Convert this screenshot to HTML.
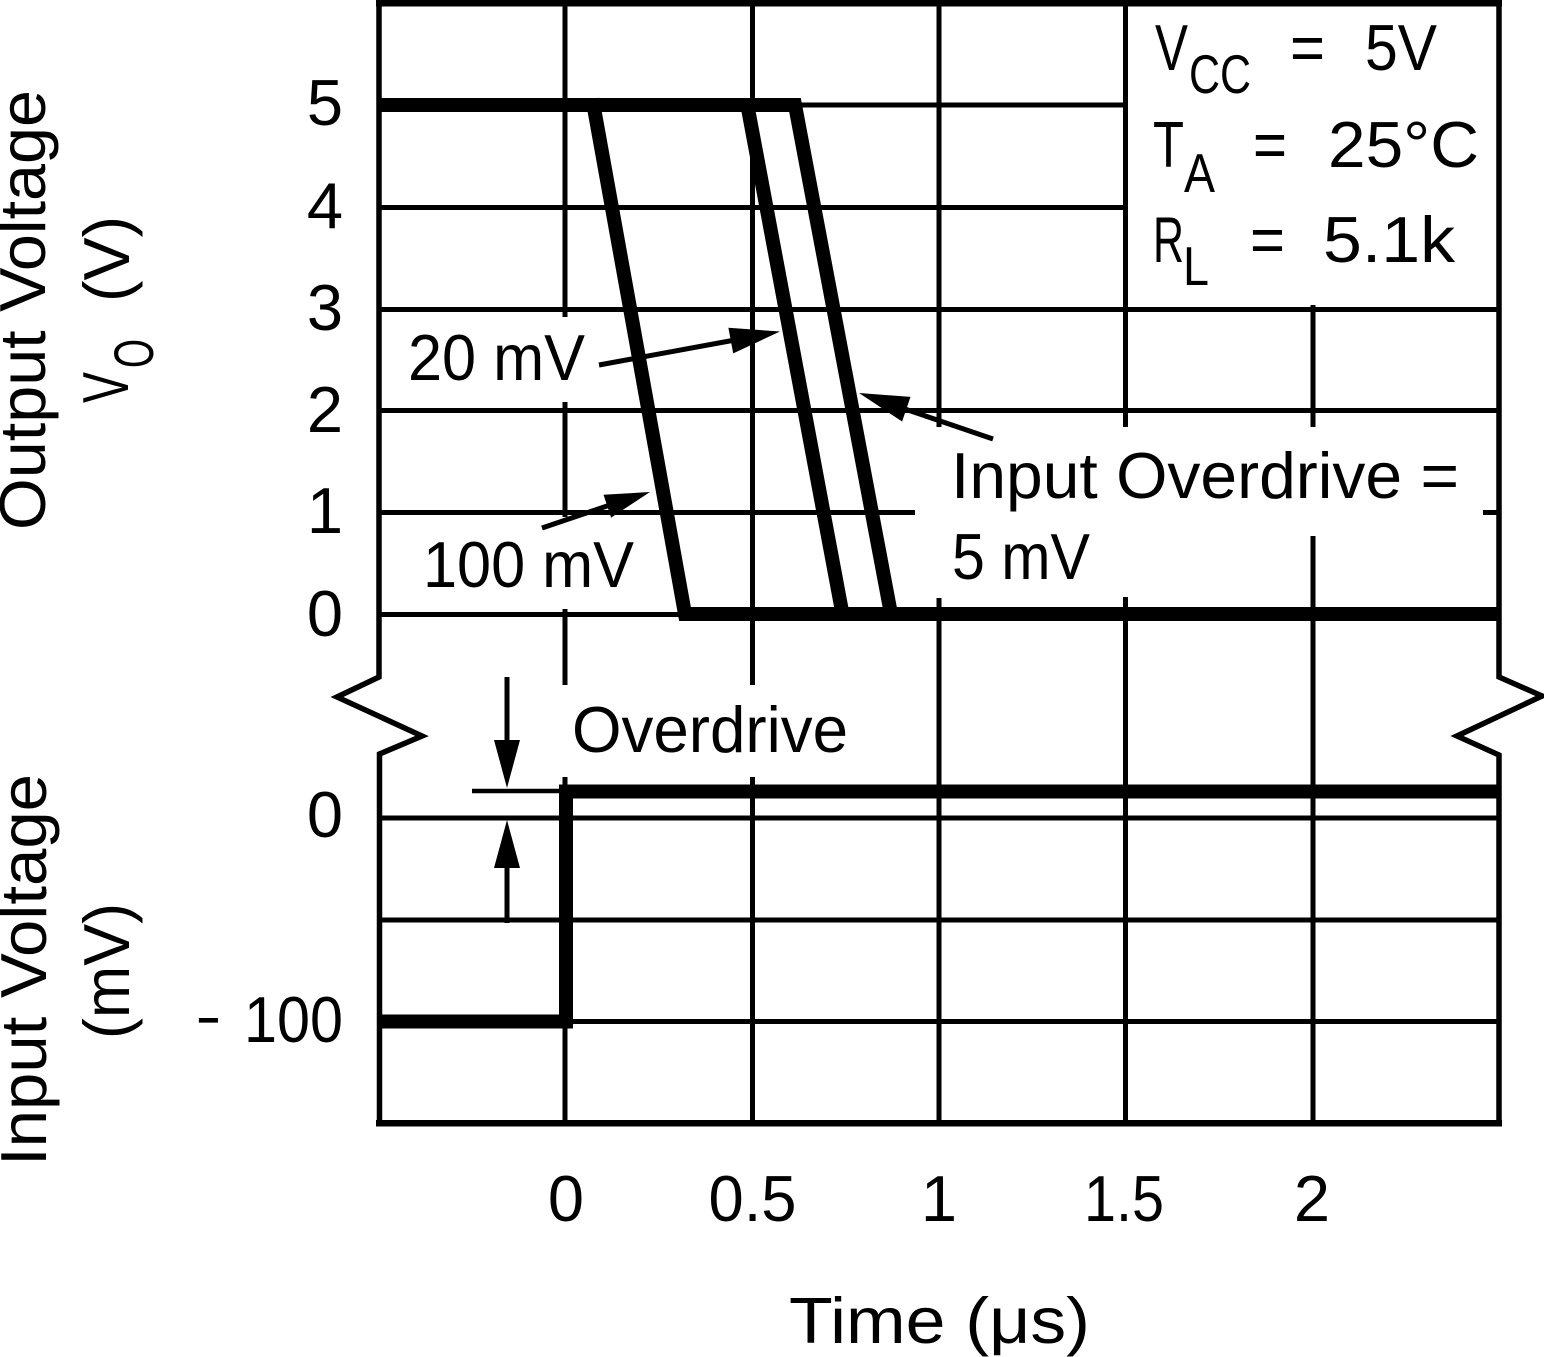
<!DOCTYPE html>
<html>
<head>
<meta charset="utf-8">
<style>
html,body{margin:0;padding:0;background:#fff;}
svg{display:block;}
text{font-family:"Liberation Sans",Arial,sans-serif;font-size:65px;fill:#000;}
</style>
</head>
<body>
<svg width="1544" height="1357" viewBox="0 0 1544 1357" xmlns="http://www.w3.org/2000/svg">
<rect x="0" y="0" width="1544" height="1357" fill="#fff"/>

<!-- thin grid lines -->
<g stroke="#000" stroke-width="5" fill="none" stroke-linecap="butt">
  <!-- upper horizontals -->
  <line x1="380" y1="105" x2="1128" y2="105"/>
  <line x1="380" y1="207.5" x2="1128" y2="207.5"/>
  <line x1="380" y1="309.5" x2="1499" y2="309.5"/>
  <line x1="380" y1="410.5" x2="1499" y2="410.5"/>
  <line x1="380" y1="512.5" x2="915" y2="512.5"/>
  <line x1="1483" y1="512.5" x2="1499" y2="512.5"/>
  <line x1="380" y1="614.5" x2="1499" y2="614.5"/>
  <!-- upper verticals -->
  <line x1="565" y1="0" x2="565" y2="317"/>
  <line x1="565" y1="402" x2="565" y2="517"/>
  <line x1="565" y1="609" x2="565" y2="685"/>
  <line x1="752.5" y1="0" x2="752.5" y2="685"/>
  <line x1="939" y1="0" x2="939" y2="427"/>
  <line x1="939" y1="598" x2="939" y2="1123"/>
  <line x1="1125.5" y1="0" x2="1125.5" y2="427"/>
  <line x1="1125.5" y1="597" x2="1125.5" y2="1123"/>
  <line x1="1313" y1="305" x2="1313" y2="427"/>
  <line x1="1313" y1="536" x2="1313" y2="1123"/>
  <!-- lower verticals -->
  <line x1="565" y1="777" x2="565" y2="1123"/>
  <line x1="752.5" y1="777" x2="752.5" y2="1123"/>
  <!-- lower horizontals -->
  <line x1="380" y1="818" x2="1499" y2="818"/>
  <line x1="380" y1="920" x2="1499" y2="920"/>
  <line x1="380" y1="1021.5" x2="1499" y2="1021.5"/>
</g>

<!-- thick curves -->
<g stroke="#000" stroke-width="14" fill="none" stroke-linejoin="miter" stroke-miterlimit="10">
  <path d="M379,105 H795 L891,614 H1499"/>
  <path d="M592.4,99 L685,614 H891"/>
  <path d="M746.2,99 L842.5,614 H891"/>
  <path d="M379,1021.5 H566 V791.5 H1499"/>
</g>

<!-- frame -->
<g fill="#000">
  <rect x="376" y="0" width="1126" height="6.5"/>
  <rect x="376" y="1120" width="1126" height="6.5"/>
</g>
<g stroke="#000" stroke-width="5.5" fill="none" stroke-linejoin="miter">
  <path d="M379,0 V677 L337,697 L422,736 L379.5,754 V1123"/>
  <path d="M1499,0 V677 L1542,696 L1457,736 L1499,755 V1123"/>
</g>

<!-- arrows -->
<g stroke="#000" stroke-width="5" fill="none">
  <line x1="599" y1="365" x2="735" y2="340"/>
  <line x1="542" y1="528" x2="610" y2="505"/>
  <line x1="993" y1="439" x2="902" y2="408"/>
  <line x1="507" y1="677" x2="507" y2="745"/>
  <line x1="507" y1="923" x2="507" y2="862"/>
  <line x1="472" y1="791" x2="562" y2="791" stroke-width="4.5"/>
</g>
<g fill="#000">
  <polygon points="780,331.5 728.4,327.8 733.2,353.4"/>
  <polygon points="650,492 603.5,494.8 611.1,517.6"/>
  <polygon points="859,393 910.5,396.9 902.1,421.5"/>
  <polygon points="507,788 494,740 520,740"/>
  <polygon points="507,820 494,868 520,868"/>
</g>

<!-- y tick labels -->
<g text-anchor="end">
  <text x="343" y="125">5</text>
  <text x="343" y="228">4</text>
  <text x="343" y="330">3</text>
  <text x="343" y="432">2</text>
  <text x="343" y="533">1</text>
  <text x="343" y="636">0</text>
  <text x="343" y="837">0</text>
</g>
<text x="197" y="1042" textLength="23" lengthAdjust="spacingAndGlyphs">−</text>
<text x="244" y="1042" textLength="99" lengthAdjust="spacingAndGlyphs">100</text>

<!-- x tick labels -->
<g text-anchor="middle">
  <text x="566" y="1221">0</text>
  <text x="752.5" y="1221" textLength="88" lengthAdjust="spacingAndGlyphs">0.5</text>
  <text x="939" y="1221">1</text>
  <text x="1124" y="1221" textLength="80" lengthAdjust="spacingAndGlyphs">1.5</text>
  <text x="1312" y="1221">2</text>
</g>
<text x="789" y="1343" textLength="301" lengthAdjust="spacingAndGlyphs">Time (μs)</text>

<!-- rotated axis labels -->
<text transform="translate(45,310) rotate(-90)" text-anchor="middle" textLength="440" lengthAdjust="spacingAndGlyphs">Output Voltage</text>
<text transform="translate(128,403) rotate(-90)" textLength="31" lengthAdjust="spacingAndGlyphs">V</text>
<text transform="translate(153,368) rotate(-90)" style="font-size:56px" textLength="29" lengthAdjust="spacingAndGlyphs">O</text>
<text transform="translate(129,302) rotate(-90)" textLength="86" lengthAdjust="spacingAndGlyphs">(V)</text>
<text transform="translate(46,970) rotate(-90)" text-anchor="middle" textLength="392" lengthAdjust="spacingAndGlyphs">Input Voltage</text>
<text transform="translate(129,1039) rotate(-90)" textLength="136" lengthAdjust="spacingAndGlyphs">(mV)</text>

<!-- annotations -->
<text x="408" y="380" textLength="177" lengthAdjust="spacingAndGlyphs">20 mV</text>
<text x="423" y="587" textLength="211" lengthAdjust="spacingAndGlyphs">100 mV</text>
<text x="951" y="498" textLength="508" lengthAdjust="spacingAndGlyphs">Input Overdrive =</text>
<text x="952" y="579" textLength="138" lengthAdjust="spacingAndGlyphs">5 mV</text>
<text x="572" y="752" textLength="276" lengthAdjust="spacingAndGlyphs">Overdrive</text>

<!-- legend -->
<text x="1155" y="70" textLength="33" lengthAdjust="spacingAndGlyphs">V</text>
<text x="1189" y="93" style="font-size:55px" textLength="62" lengthAdjust="spacingAndGlyphs">CC</text>
<text x="1290" y="70" textLength="35" lengthAdjust="spacingAndGlyphs">=</text>
<text x="1365" y="70" textLength="72" lengthAdjust="spacingAndGlyphs">5V</text>

<text x="1153" y="167" textLength="31" lengthAdjust="spacingAndGlyphs">T</text>
<text x="1184" y="192" style="font-size:55px" textLength="31" lengthAdjust="spacingAndGlyphs">A</text>
<text x="1253" y="167" textLength="34" lengthAdjust="spacingAndGlyphs">=</text>
<text x="1328" y="167" textLength="151" lengthAdjust="spacingAndGlyphs">25°C</text>

<text x="1153" y="262" textLength="31" lengthAdjust="spacingAndGlyphs">R</text>
<text x="1183" y="285" style="font-size:55px" textLength="26" lengthAdjust="spacingAndGlyphs">L</text>
<text x="1250" y="262" textLength="35" lengthAdjust="spacingAndGlyphs">=</text>
<text x="1323" y="262" textLength="132" lengthAdjust="spacingAndGlyphs">5.1k</text>
</svg>
</body>
</html>
